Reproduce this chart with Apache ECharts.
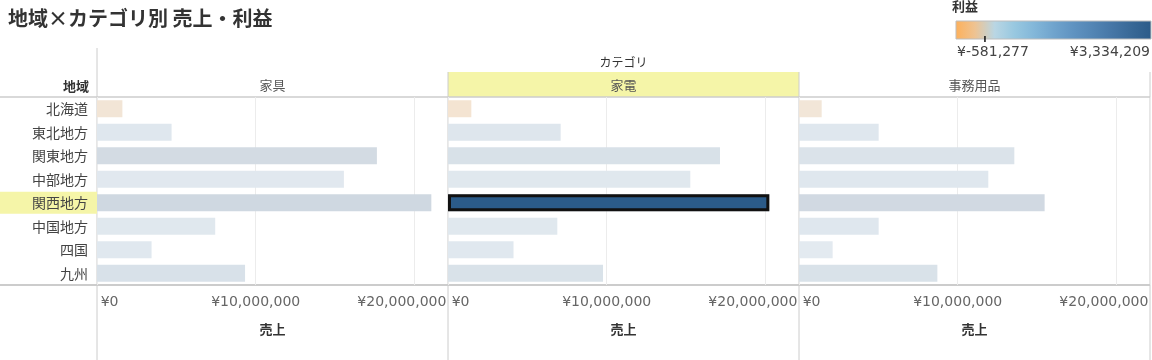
<!DOCTYPE html>
<html><head><meta charset="utf-8">
<script src="https://cdn.jsdelivr.net/npm/echarts@6/dist/echarts.min.js"></script>
<style>html,body{margin:0;padding:0;background:#fff}#c{width:1152px;height:360px}</style>
</head><body><div id="c"></div>
<script>
// ---- data ----
const regions = ['北海道','東北地方','関東地方','中部地方','関西地方','中国地方','四国','九州'];
const categories = ['家具','家電','事務用品'];
const salesFurniture = [1600000, 4700000, 17640000, 15560000, 21070000, 7450000, 3440000, 9330000];
const salesAppliance = [1470000, 7100000, 17140000, 15270000, 20250000, 6890000, 4130000, 9770000];
const salesOffice    = [1430000, 5020000, 13570000, 11930000, 15480000, 5020000, 2120000, 8720000];
const profitFurniture = [-420000, 600000, 2160000, 400000, 2550000, 500000, 450000, 1450000];
const profitAppliance = [-581277, 700000, 1570000, 500000, 3334209, 500000, 450000, 1400000];
const profitOffice    = [-350000, 650000, 1200000, 550000, 2400000, 550000, 250000, 1400000];
const xTicks = [0, 10000000, 20000000];
const selectedRegion = '関西地方';
const selectedCategory = '家電';

// ---- styling ----
const CJK = '"Noto Sans CJK JP", sans-serif';
const NUM = '"DejaVu Sans", "Noto Sans CJK JP", sans-serif';
const fullRamp = ['#fdb05a','#eec392','#b9d6e4','#98c8e0','#83b7d9','#70a4cd','#6093c1','#5385b4','#4676a6','#386896','#2b5b89'];
const fadedRamp = ['#f4e4d2','#f0e7dc','#e3eaf0','#dfe7ee','#dde5ec','#d9e2e9','#d6dfe7','#d3dbe3','#cfd8e1','#ccd6e0','#cad4de'];
const gridLeft = [97, 448, 799], gridW = 351, gridTop = 97, gridH = 188;
const xMax = 22120000;

const salesByCat = [salesFurniture, salesAppliance, salesOffice];
const profitByCat = [profitFurniture, profitAppliance, profitOffice];
const allProfit = profitByCat.flat();
const pMin = Math.min(...allProfit), pMax = Math.max(...allProfit);
const yen = v => '¥' + v.toLocaleString('en-US');

const tickTok = {fontFamily: NUM, fontSize: 14, color: '#666', lineHeight: 16};
const grids = [], xAxes = [], yAxes = [], series = [];
categories.forEach((cat, i) => {
  grids.push({left: gridLeft[i], top: gridTop, width: gridW, height: gridH, containLabel: false, outerBoundsMode: 'none'});
  xAxes.push({
    gridIndex: i, type: 'value', min: 0, max: xMax, interval: 10000000,
    axisLine: {show: false}, axisTick: {show: false},
    splitLine: {show: true, lineStyle: {color: '#ececec', width: 1}},
    axisLabel: {
      show: true, margin: 9, showMaxLabel: false, showMinLabel: true, hideOverlap: false,
      fontFamily: NUM, fontSize: 14, color: '#666', lineHeight: 16,
      formatter: v => {
        if (!xTicks.includes(v)) return '';
        const s = yen(v);
        if (v === xTicks[0]) return '{a|' + s + '}';
        if (v === xTicks[xTicks.length - 1]) return '{b|' + s + '}';
        return '{c|' + s + '}';
      },
      rich: {
        a: Object.assign({}, tickTok, {width: 43, align: 'right'}),
        b: Object.assign({}, tickTok, {width: 114, align: 'left'}),
        c: Object.assign({}, tickTok)
      }
    },
    name: '売上', nameLocation: 'middle', nameGap: 38, nameMoveOverlap: false,
    nameTextStyle: {fontFamily: CJK, fontSize: 13, fontWeight: 'bold', color: '#333'}
  });
  yAxes.push({
    gridIndex: i, type: 'category', data: regions, inverse: true,
    axisLine: {show: false}, axisTick: {show: false}, splitLine: {show: false},
    axisLabel: {
      show: i === 0, margin: 0, fontFamily: CJK, fontSize: 14, color: '#444',
      formatter: v => v === selectedRegion ? '{hl|' + v + '}' : '{n|' + v + '}',
      rich: {
        n: {fontFamily: CJK, fontSize: 14, color: '#444', padding: [0, 9, 0, 0]},
        hl: {fontFamily: CJK, fontSize: 14, color: '#444', backgroundColor: '#f5f5a8',
             lineHeight: 14, padding: [4, 9, 4, 32]}
      }
    }
  });
  series.push({
    type: 'bar', xAxisIndex: i, yAxisIndex: i, barWidth: 17, barGap: '-100%',
    encode: {x: 0, y: 1},
    data: regions.map((r, j) => [salesByCat[i][j], r, profitByCat[i][j]]),
    itemStyle: {borderWidth: 0},
    emphasis: {disabled: true}, silent: true
  });
});
const si = categories.indexOf(selectedCategory), sj = regions.indexOf(selectedRegion);
series.push({
  type: 'bar', xAxisIndex: si, yAxisIndex: si, barWidth: 17, barGap: '-100%',
  encode: {x: 0, y: 1},
  data: [[salesByCat[si][sj], selectedRegion, profitByCat[si][sj]]],
  itemStyle: {borderColor: '#111', borderWidth: 3},
  emphasis: {disabled: true}, silent: true, z: 5
});

// ---- decorations ----
const lineC = '#cccccc';
const graphics = [];
graphics.push({type: 'rect', shape: {x: gridLeft[si], y: 72, width: gridW, height: 25}, style: {fill: '#f5f5a8'}, silent: true});
graphics.push({type: 'line', shape: {x1: 0, y1: 97, x2: 1150, y2: 97}, style: {stroke: lineC, lineWidth: 1.5}});
graphics.push({type: 'line', shape: {x1: 0, y1: 285, x2: 1150, y2: 285}, style: {stroke: lineC, lineWidth: 2}});
graphics.push({type: 'line', shape: {x1: 97, y1: 48, x2: 97, y2: 360}, style: {stroke: lineC, lineWidth: 1}});
[gridLeft[1], gridLeft[2], gridLeft[2] + gridW].forEach(x => {
  graphics.push({type: 'line', shape: {x1: x, y1: 72, x2: x, y2: 360}, style: {stroke: lineC, lineWidth: 1}});
});
graphics.push({type: 'text', x: 89, y: 86, style: {text: '地域', fontFamily: CJK, fontSize: 13, fontWeight: 'bold', fill: '#333', align: 'right', verticalAlign: 'middle'}});
graphics.push({type: 'text', x: gridLeft[1] + gridW / 2, y: 62, style: {text: 'カテゴリ', fontFamily: CJK, fontSize: 12, fill: '#333', align: 'center', verticalAlign: 'middle'}});
categories.forEach((cat, i) => {
  graphics.push({type: 'text', x: gridLeft[i] + gridW / 2, y: 85, style: {text: cat, fontFamily: CJK, fontSize: 13, fill: '#555', align: 'center', verticalAlign: 'middle'}});
});
const lgX = 956, lgY = 21, lgW = 195, lgH = 18;
graphics.push({type: 'text', x: 952, y: 6, style: {text: '利益', fontFamily: CJK, fontSize: 13, fontWeight: 'bold', fill: '#333', align: 'left', verticalAlign: 'middle'}});
graphics.push({type: 'rect', shape: {x: lgX, y: lgY, width: lgW, height: lgH},
  style: {fill: new echarts.graphic.LinearGradient(0, 0, 1, 0, fullRamp.map((c, k) => ({offset: k / (fullRamp.length - 1), color: c}))),
          stroke: '#bdbdbd', lineWidth: 1}});
const zx = lgX + lgW * (0 - pMin) / (pMax - pMin);
graphics.push({type: 'line', shape: {x1: zx, y1: lgY + lgH - 3, x2: zx, y2: lgY + lgH + 3}, style: {stroke: '#111', lineWidth: 1.5}});
graphics.push({type: 'text', x: lgX + 1, y: 52, style: {text: yen(pMin), fontFamily: NUM, fontSize: 14, fill: '#444', align: 'left', verticalAlign: 'middle'}});
graphics.push({type: 'text', x: lgX + lgW - 1, y: 52, style: {text: yen(pMax), fontFamily: NUM, fontSize: 14, fill: '#444', align: 'right', verticalAlign: 'middle'}});

const chart = echarts.init(document.getElementById('c'), null, {renderer: 'canvas'});
chart.setOption({
  animation: false,
  backgroundColor: '#fff',
  title: {text: '地域×カテゴリ別 売上・利益', left: 8, top: 8, padding: 0,
          textStyle: {fontFamily: CJK, fontSize: 20, fontWeight: 'bold', color: '#333'}},
  grid: grids, xAxis: xAxes, yAxis: yAxes, series: series,
  visualMap: [
    {type: 'continuous', show: false, dimension: 2, min: pMin, max: pMax, seriesIndex: [0, 1, 2], inRange: {color: fadedRamp}},
    {type: 'continuous', show: false, dimension: 2, min: pMin, max: pMax, seriesIndex: [3], inRange: {color: fullRamp}}
  ],
  graphic: graphics
});
</script>
</body></html>
